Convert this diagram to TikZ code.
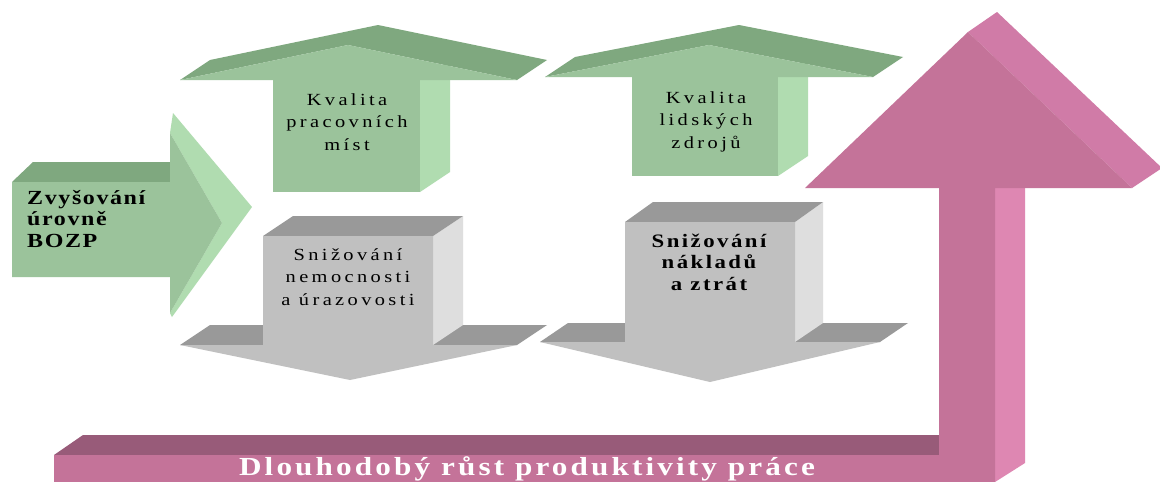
\documentclass[tikz,border=0pt]{standalone}
\usepackage{fontspec}
\setmainfont{Liberation Serif}
\newfontfamily\trackreg[FakeStretch=1.2,LetterSpace=20]{Liberation Serif}
\newfontfamily\trackbold[FakeStretch=1.2,LetterSpace=13]{Liberation Serif Bold}
\newfontfamily\trackboldleft[FakeStretch=1.2,LetterSpace=8]{Liberation Serif Bold}
\newfontfamily\trackbottom[FakeStretch=1.2,LetterSpace=12]{Liberation Serif Bold}
\definecolor{gfront}{HTML}{9BC39B}
\definecolor{gdark}{HTML}{7FA87F}
\definecolor{glight}{HTML}{B0DCB0}
\definecolor{grfront}{HTML}{C0C0C0}
\definecolor{grdark}{HTML}{999999}
\definecolor{grlight}{HTML}{DEDEDE}
\definecolor{pfront}{HTML}{C47399}
\definecolor{pside}{HTML}{DE87B2}
\definecolor{phead}{HTML}{D07BA7}
\definecolor{pdark}{HTML}{985B79}
\tikzset{
  face/.style={draw=none},
  reglabel/.style={anchor=base, align=center, inner sep=0pt, font=\fontsize{17}{22.5}\trackreg},
  boldlabel/.style={anchor=base, align=center, inner sep=0pt, font=\fontsize{19}{21.5}\trackbold},
}
\begin{document}
\begin{tikzpicture}[x=1pt,y=-1pt]
\useasboundingbox (0,0) rectangle (1160,482);
\clip (0,0) rectangle (1160,482);
\fill[white] (0,0) rectangle (1160,482);

% ---------- left green arrow ----------
\fill[face, fill=gdark] (12,182) -- (33,162) -- (170,162) -- (170,182) -- cycle;
\fill[face, fill=glight] (170,133) -- (173,113) -- (252,207) -- (172,317) -- (170,313) -- (222,223) -- cycle;
\fill[face, fill=gfront] (12,182) -- (170,182) -- (170,133) -- (222,223) -- (170,313) -- (170,277) -- (12,277) -- cycle;
\node[anchor=base west, align=left, inner sep=0pt, font=\fontsize{20}{21.5}\trackboldleft] (bozp) at (27,247) {Zvyšování\\úrovně\\BOZP};

% ---------- up arrow 1 ----------
\fill[face, fill=glight] (420,192) -- (450,172) -- (450,60) -- (420,80) -- cycle;
\fill[face, fill=gfront] (273,80) rectangle (420,192);
\fill[face, fill=gdark] (180,80) -- (210,60) -- (378,25) -- (547,60) -- (517,80) -- (348,45) -- cycle;
\fill[face, fill=gfront] (180,80) -- (348,45) -- (517,80) -- cycle;
\node[reglabel] (kpm) at (347,150) {Kvalita\\pracovních\\míst};

% ---------- up arrow 2 ----------
\fill[face, fill=glight] (778,176) -- (808,156) -- (808,57) -- (778,77) -- cycle;
\fill[face, fill=gfront] (632,77) rectangle (778,176);
\fill[face, fill=gdark] (545,77) -- (575,57) -- (739,25) -- (903,57) -- (873,77) -- (709,45) -- cycle;
\fill[face, fill=gfront] (545,77) -- (709,45) -- (873,77) -- cycle;
\node[reglabel] (klz) at (706,148) {Kvalita\\lidských\\zdrojů};

% ---------- down arrow 1 ----------
\fill[face, fill=grdark] (180,345) -- (210,325) -- (547,325) -- (517,345) -- cycle;
\fill[face, fill=grlight] (433,236) -- (463,216) -- (463,325) -- (433,345) -- cycle;
\fill[face, fill=grdark] (263,236) -- (293,216) -- (463,216) -- (433,236) -- cycle;
\fill[face, fill=grfront] (263,236) -- (433,236) -- (433,345) -- (517,345) -- (350,380) -- (180,345) -- (263,345) -- cycle;
\node[reglabel] (snu) at (348,305) {Snižování\\nemocnosti\\a úrazovosti};

% ---------- down arrow 2 ----------
\fill[face, fill=grdark] (540,342) -- (568,323) -- (908,323) -- (880,342) -- cycle;
\fill[face, fill=grlight] (795,222) -- (823,202) -- (823,323) -- (795,342) -- cycle;
\fill[face, fill=grdark] (625,222) -- (653,202) -- (823,202) -- (795,222) -- cycle;
\fill[face, fill=grfront] (625,222) -- (795,222) -- (795,342) -- (880,342) -- (710,382) -- (540,342) -- (625,342) -- cycle;
\node[boldlabel] (snz) at (709,290) {Snižování\\nákladů\\a ztrát};

% ---------- pink arrow ----------
\fill[face, fill=pdark] (54,455) -- (83,435) -- (945,435) -- (945,455) -- cycle;
\fill[face, fill=pside] (995,482) -- (995,188) -- (1025,168) -- (1025,463) -- cycle;
\fill[face, fill=phead] (968,32) -- (997,12) -- (1162,168) -- (1132,188) -- cycle;
\fill[face, fill=pfront] (54,490) -- (54,455) -- (939,455) -- (939,188) -- (805,188) -- (968,32) -- (1132,188) -- (995,188) -- (995,490) -- cycle;
\node[anchor=base, inner sep=0pt, text=white, font=\fontsize{26}{28}\trackbottom] (rust) at (527,475) {Dlouhodobý růst produktivity práce};
\end{tikzpicture}
\end{document}
